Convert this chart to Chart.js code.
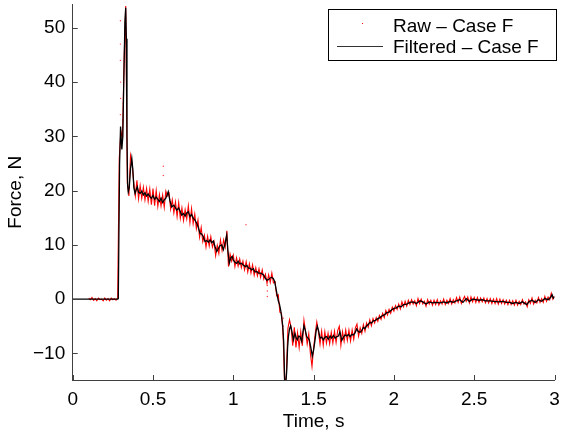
<!DOCTYPE html>
<html>
<head>
<meta charset="utf-8">
<script src="https://cdn.jsdelivr.net/npm/chart.js@4"></script>
<style>
  html, body { margin: 0; padding: 0; background: #fff; }
  #wrap { width: 561px; height: 433px; position: relative; }
</style>
</head>
<body>
<div id="wrap"><canvas id="force-chart"></canvas></div>
<script>
// axis ticks
const xTicks = [0, 0.5, 1, 1.5, 2, 2.5, 3];
const yTicks = [-10, 0, 10, 20, 30, 40, 50];

// filtered signal (time s, force N)
const filtTime = [0, 0.28, 0.284, 0.292, 0.298, 0.303, 0.306, 0.312, 0.318, 0.325, 0.33, 0.334, 0.338, 0.342, 0.346, 0.352, 0.36, 0.368, 0.374, 0.381,
  0.388, 0.396, 0.402, 0.41, 0.42, 0.43, 0.44, 0.45, 0.46, 0.47, 0.48, 0.49, 0.5, 0.51, 0.52, 0.53, 0.54, 0.55, 0.56, 0.57,
  0.58, 0.595, 0.605, 0.616, 0.63, 0.648, 0.66, 0.679, 0.69, 0.7, 0.71, 0.72, 0.73, 0.74, 0.751, 0.76, 0.772, 0.78, 0.793, 0.803,
  0.813, 0.824, 0.835, 0.845, 0.855, 0.866, 0.876, 0.887, 0.897, 0.905, 0.915, 0.928, 0.938, 0.948, 0.959, 0.966, 0.975, 0.985, 0.993, 1.0,
  1.01, 1.021, 1.03, 1.04, 1.05, 1.062, 1.075, 1.085, 1.094, 1.104, 1.115, 1.125, 1.135, 1.146, 1.157, 1.167, 1.177, 1.187, 1.197, 1.208,
  1.218, 1.229, 1.239, 1.249, 1.258, 1.266, 1.273, 1.28, 1.288, 1.295, 1.302, 1.308, 1.314, 1.318, 1.322, 1.328, 1.333, 1.338, 1.343, 1.35,
  1.357, 1.364, 1.374, 1.384, 1.392, 1.399, 1.407, 1.415, 1.426, 1.433, 1.44, 1.448, 1.457, 1.465, 1.473, 1.482, 1.492, 1.5, 1.509, 1.516,
  1.523, 1.531, 1.54, 1.55, 1.561, 1.571, 1.581, 1.592, 1.603, 1.613, 1.624, 1.634, 1.644, 1.655, 1.664, 1.675, 1.686, 1.696, 1.706, 1.717,
  1.727, 1.737, 1.747, 1.758, 1.768, 1.779, 1.789, 1.8, 1.81, 1.82, 1.83, 1.84, 1.85, 1.86, 1.872, 1.885, 1.9, 1.913, 1.925, 1.94,
  1.955, 1.97, 1.985, 2.0, 2.015, 2.03, 2.045, 2.06, 2.08, 2.1, 2.12, 2.14, 2.163, 2.18, 2.2, 2.22, 2.24, 2.26, 2.287, 2.31,
  2.33, 2.35, 2.37, 2.39, 2.41, 2.43, 2.45, 2.47, 2.49, 2.51, 2.53, 2.55, 2.57, 2.6, 2.62, 2.65, 2.68, 2.7, 2.72, 2.74,
  2.76, 2.78, 2.8, 2.827, 2.84, 2.86, 2.88, 2.9, 2.92, 2.94, 2.96, 2.975, 2.985, 2.993, 3.0];
const filtForce = [0, 0, 0.1, 25, 31.8, 29, 27.6, 30, 40, 51, 53.7, 48, 30, 21, 19.8, 20.5, 24, 25.9, 24, 20.5,
  19.5, 20.2, 20.7, 19.7, 19.5, 19.9, 19.2, 19.6, 19.0, 19.4, 18.9, 18.6, 19.1, 18.4, 18.8, 18.4, 18.0, 18.6, 17.8, 18.3,
  18.6, 19.8, 18.2, 17.0, 17.3, 16.4, 16.8, 15.5, 15.8, 15.3, 15.9, 16.1, 15.2, 15.6, 14.9, 14.6, 14.0, 13.4, 12.1, 12.0,
  11.5, 10.6, 10.8, 10.5, 10.9, 10.4, 10.7, 9.6, 8.8, 9.2, 9.8, 10.0, 9.1, 10.2, 11.8, 9.0, 6.6, 7.6, 7.9, 7.2,
  6.8, 6.6, 7.0, 6.5, 6.6, 6.3, 6.0, 6.2, 5.7, 5.7, 5.4, 5.6, 5.0, 5.1, 4.8, 4.8, 4.7, 4.5, 4.0, 3.5,
  3.6, 3.9, 4.0, 3.8, 3.2, 1.9, 0.8, -0.3, -1.0, -2.0, -3.5, -5.0, -8, -13, -18, -18, -13, -9, -6.9, -5.5,
  -4.9, -5.8, -7.5, -6.3, -7.2, -7.5, -6.8, -6.9, -7.8, -6.2, -4.9, -5.7, -6.9, -7.2, -7.5, -8.8, -10.5, -9.4, -7.5, -5.8,
  -5.0, -5.8, -7.2, -7.0, -7.5, -7.0, -6.9, -7.4, -6.8, -7.2, -6.7, -7.2, -6.9, -6.8, -6.0, -7.6, -7.0, -6.6, -6.8, -6.5,
  -6.9, -6.5, -6.6, -6.2, -5.5, -6.0, -6.1, -5.8, -5.2, -5.4, -4.9, -4.7, -4.3, -4.4, -4.0, -3.9, -3.6, -3.4, -3.1, -2.9,
  -2.5, -2.4, -2.0, -1.7, -1.6, -1.3, -1.4, -1.0, -0.9, -0.6, -0.5, -0.8, -0.3, -0.5, -0.9, -0.5, -0.7, -0.6, -0.7, -0.5,
  -0.7, -0.4, -0.6, -0.3, -0.1, -0.6, 0.1, -0.4, 0.0, -0.1, -0.2, -0.1, -0.3, -0.3, -0.4, -0.5, -0.4, -0.6, -0.6, -0.8,
  -0.6, -0.8, -0.5, -1.0, -0.5, -0.2, -0.6, -0.1, -0.4, 0.1, -0.1, 0.3, 0.8, 0.2, 0.4];

// raw signal, sampled every rawStep seconds from rawStart
const rawStart = 0.10;
const rawStep = 0.01;
const rawForce = [
  0.2, -0.1, 0.3, -0.2, 0.1, -0.3, 0.2, -0.1, 0.0, -0.3,
  0.2, -0.2, 0.1, -0.3, 0.2, -0.1, 0.1, -0.2, 0.2, 26.0,
  31.0, 29.5, 44.0, 54.0, 21.5, 19.0, 26.5, 25.0, 21.5, 19.0,
  21.9, 18.5, 20.9, 18.6, 20.6, 18.3, 20.4, 18.0, 20.3, 17.4,
  20.4, 17.2, 20.0, 17.1, 19.3, 17.2, 19.2, 16.9, 19.9, 19.0,
  19.5, 16.6, 18.3, 15.9, 17.9, 15.2, 17.8, 14.9, 16.8, 14.5,
  16.5, 14.8, 17.2, 14.1, 16.7, 13.9, 15.7, 13.0, 14.6, 11.4,
  13.2, 10.6, 11.8, 9.6, 11.6, 9.8, 11.5, 9.6, 10.6, 8.0,
  9.9, 8.4, 10.9, 9.0, 10.9, 9.6, 12.6, 6.0, 8.3, 7.0,
  8.1, 6.0, 7.6, 6.1, 7.4, 5.8, 7.0, 5.4, 6.9, 5.0,
  6.5, 4.8, 6.3, 4.4, 5.8, 4.3, 5.6, 4.0, 5.4, 3.7,
  4.6, 2.9, 4.5, 3.1, 4.8, 3.0, 3.2, 0.6, 0.8, -2.4,
  -2.6, -6.5, -16, -14, -5.4, -3.8, -5.2, -8.6, -5.2, -8.9,
  -6.2, -8.9, -6.0, -8.6, -3.9, -6.0, -8.3, -6.4, -10.0, -12.4,
  -9.0, -6.4, -4.2, -6.0, -8.3, -5.9, -8.5, -6.0, -8.1, -6.3,
  -8.2, -6.1, -8.1, -5.9, -8.0, -5.8, -5.0, -8.5, -6.0, -7.8,
  -5.7, -7.6, -5.7, -7.7, -5.7, -7.4, -5.3, -4.6, -6.8, -5.3,
  -6.3, -4.7, -5.9, -4.4, -5.2, -3.8, -4.9, -3.6, -4.4, -3.4,
  -4.1, -3.0, -3.7, -2.6, -3.4, -2.1, -2.9, -1.9, -2.6, -1.5,
  -2.2, -1.2, -1.9, -0.9, -1.8, -0.5, -1.4, -0.4, -1.3, -0.2,
  -1.0, -0.1, -0.9, -0.3, -1.2, 0.1, -0.8, 0.0, -0.9, -0.4,
  -1.3, -0.1, -0.9, -0.2, -1.1, -0.2, -1.0, -0.1, -1.1, -0.3,
  -0.9, 0.0, -1.0, -0.2, -0.8, 0.1, -0.9, -0.1, -0.7, 0.3,
  -0.6, 0.4, -0.8, -0.1, 0.5, -0.4, 0.4, -0.7, 0.4, -0.5,
  0.3, -0.6, 0.3, -0.6, 0.2, -0.5, 0.2, -0.7, 0.1, -0.7,
  0.1, -0.8, 0.0, -0.8, 0.1, -0.9, 0.0, -0.8, -0.1, -0.9,
  -0.2, -1.0, -0.2, -1.0, -0.3, -1.1, -0.2, -1.1, -0.4, -1.0,
  -0.1, -0.9, -0.5, -1.4, -0.1, -0.8, 0.2, -0.9, -0.2, -0.7,
  0.3, -0.6, 0.1, -0.6, 0.5, -0.4, 0.4, -0.1, 1.1, 0.0,
  0.6];

// stray raw samples away from the band
const strayTime = [0.297, 0.297, 0.297, 0.298, 0.298, 0.297, 0.315, 0.315, 0.564, 0.564, 1.079, 1.212, 1.212, 1.212, 1.311, 1.311, 1.311];
const strayForce = [51.3, 47, 44, 40, 37, 34, 36, 33, 24.5, 22.8, 13.7, 2.5, 1.5, 0.5, -3.5, -5, -6.5];

const FONT = '"Liberation Sans", Arial, Helvetica, sans-serif';
const AXIS = '#404040';

const filtered = filtTime.map((t, i) => ({ x: t, y: filtForce[i] }));
const raw = rawForce.map((f, i) => ({ x: rawStart + i * rawStep, y: f }));
const stray = strayTime.map((t, i) => ({ x: t, y: strayForce[i] }));

// matlab style ticks pointing into the plot
const inwardTicks = {
  id: 'inwardTicks',
  afterDraw(chart) {
    const { ctx, chartArea: a, scales: { x, y } } = chart;
    ctx.save();
    ctx.strokeStyle = AXIS;
    ctx.lineWidth = 1;
    ctx.beginPath();
    x.ticks.forEach(t => {
      const px = Math.round(x.getPixelForValue(t.value)) + 0.5;
      ctx.moveTo(px, a.bottom);
      ctx.lineTo(px, a.bottom - 5);
    });
    y.ticks.forEach(t => {
      const py = Math.round(y.getPixelForValue(t.value)) + 0.5;
      ctx.moveTo(a.left, py);
      ctx.lineTo(a.left + 5, py);
    });
    ctx.stroke();
    ctx.restore();
  }
};

// boxed legend in the top right corner
const boxLegend = {
  id: 'boxLegend',
  afterDraw(chart) {
    const ctx = chart.ctx;
    const ds = chart.data.datasets;
    ctx.save();
    ctx.fillStyle = '#fff';
    ctx.fillRect(328.5, 9.5, 228, 51);
    ctx.strokeStyle = '#000';
    ctx.lineWidth = 1;
    ctx.strokeRect(328.5, 9.5, 228, 51);

    ctx.fillStyle = '#ff0000';
    ctx.fillRect(362, 23, 1, 1);
    ctx.strokeStyle = '#333';
    ctx.beginPath();
    ctx.moveTo(337, 46.5);
    ctx.lineTo(383, 46.5);
    ctx.stroke();

    ctx.fillStyle = '#000';
    ctx.font = '19px ' + FONT;
    ctx.textBaseline = 'alphabetic';
    ctx.fillText(ds[1].label, 393, 31.5);
    ctx.fillText(ds[0].label, 393, 53);
    ctx.restore();
  }
};

new Chart(document.getElementById('force-chart'), {
  type: 'scatter',
  data: {
    datasets: [
      { label: 'Filtered \u2013 Case F', data: filtered, showLine: true, borderColor: '#000', borderWidth: 1.3, pointRadius: 0, tension: 0 },
      { label: 'Raw \u2013 Case F', data: raw, showLine: true, borderColor: '#ff0000', borderWidth: 1.1, pointRadius: 0, tension: 0 },
      { label: 'Raw stray', data: stray, showLine: false, pointRadius: 0.7, pointBackgroundColor: '#ff4040', pointBorderWidth: 0 }
    ]
  },
  options: {
    responsive: true,
    maintainAspectRatio: false,
    animation: false,
    layout: { padding: { top: 4.5, right: 6.5, left: 0, bottom: 0 } },
    plugins: { legend: { display: false }, tooltip: { enabled: false } },
    scales: {
      x: {
        type: 'linear',
        min: 0,
        max: 3,
        afterBuildTicks: s => { s.ticks = xTicks.map(v => ({ value: v })); },
        afterFit: s => { s.height = 53; s.paddingLeft = 0; s.paddingRight = 0; },
        grid: { display: false, drawTicks: false },
        border: { display: true, color: AXIS, width: 1 },
        ticks: {
          color: '#000', font: { family: FONT, size: 19 }, padding: 8, maxRotation: 0, autoSkip: false,
          callback: v => String(v)
        },
        title: { display: true, text: 'Time, s', color: '#000', font: { family: FONT, size: 19 }, padding: { top: 0, bottom: 0.3 } }
      },
      y: {
        type: 'linear',
        min: -14.9,
        max: 54.3,
        afterBuildTicks: s => { s.ticks = yTicks.map(v => ({ value: v })); },
        afterFit: s => { s.width = 72.7; s.paddingTop = 0; s.paddingBottom = 0; },
        grid: { display: false, drawTicks: false },
        border: { display: true, color: AXIS, width: 1 },
        ticks: {
          color: '#000', font: { family: FONT, size: 19 }, padding: 7.5, autoSkip: false,
          callback: v => String(v).replace('-', '\u2212')
        },
        title: { display: true, text: 'Force, N', color: '#000', font: { family: FONT, size: 19 }, padding: { top: 4, bottom: 0 } }
      }
    }
  },
  plugins: [inwardTicks, boxLegend]
});
</script>
</body>
</html>
